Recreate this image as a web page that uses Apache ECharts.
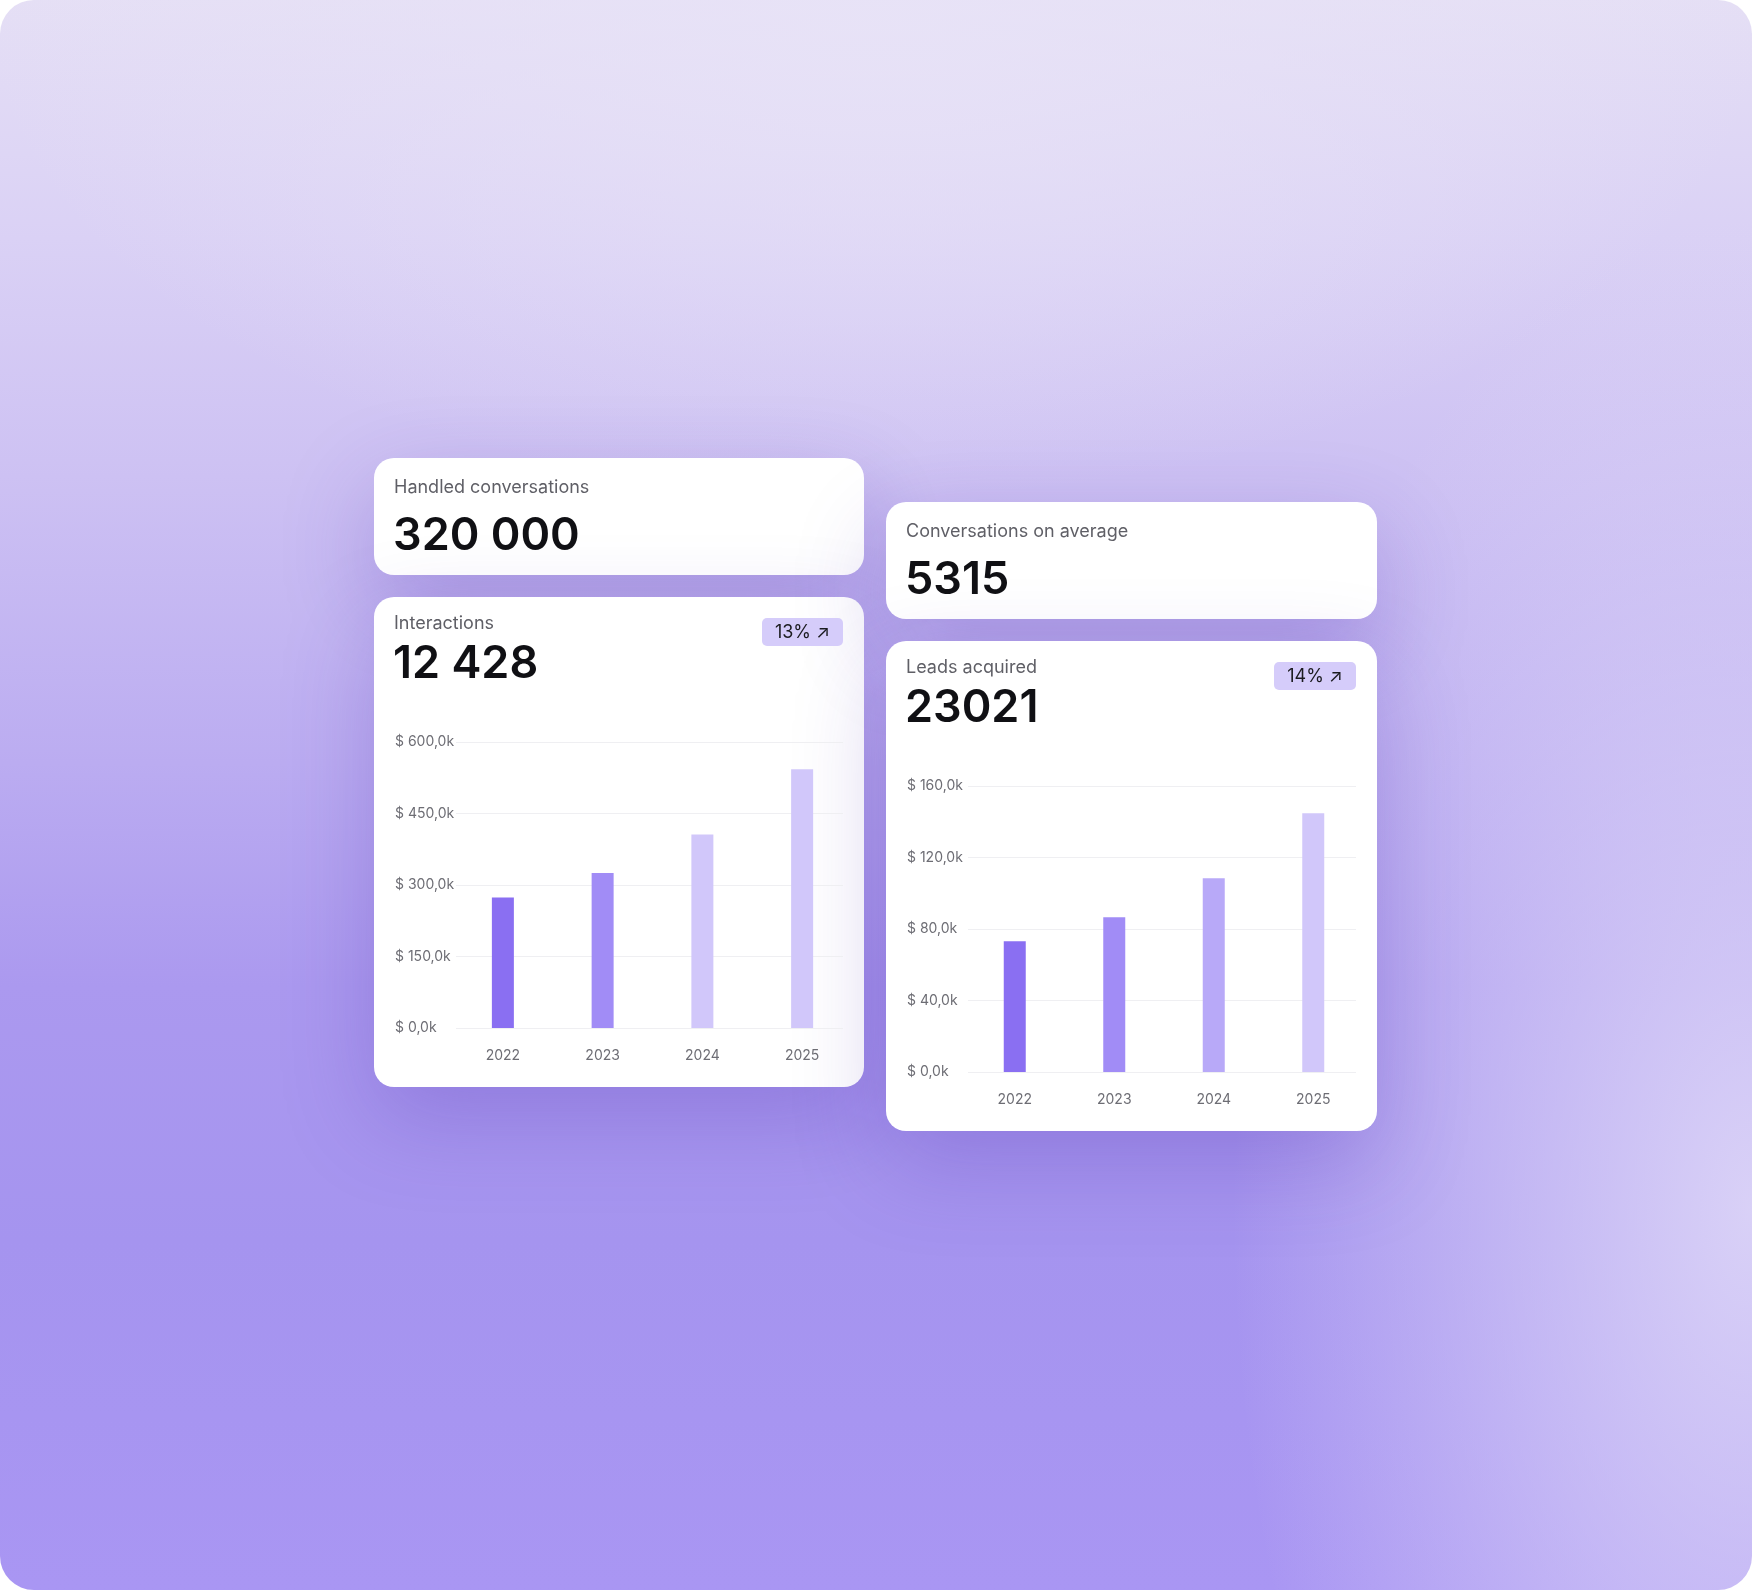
<!DOCTYPE html>
<html>
<head>
<meta charset="utf-8">
<script src="https://cdn.jsdelivr.net/npm/echarts@6/dist/echarts.min.js"></script>
<style>
  html, body { margin: 0; padding: 0; background: #ffffff; }
  #frame {
    position: absolute; left: 0; top: 0; width: 1752px; height: 1590px;
    border-radius: 34px; overflow: hidden;
    background:
      radial-gradient(ellipse 520px 1000px at 100% 76%, rgba(224,217,248,0.88) 0%, rgba(224,217,248,0.5) 45%, rgba(224,217,248,0) 100%),
      radial-gradient(ellipse 900px 500px at 50% 0%, rgba(232,227,247,0.9) 0%, rgba(232,227,247,0) 100%),
      linear-gradient(180deg, #e5dff5 0%, #dad1f5 15%, #cdc1f3 30%, #bbacf1 48%, #ab99ef 62%, #a594ef 78%, #a996f3 100%);
  }
  #chart { position: absolute; left: 0; top: 0; width: 1752px; height: 1590px; }
</style>
</head>
<body>
<div id="frame"></div>
<div id="chart"></div>
<script>
// ---------- data ----------
const years = ['2022', '2023', '2024', '2025'];
const interactionsValues = [274, 325, 406, 543];     // $ thousands
const leadsValues = [73.2, 86.6, 108.4, 144.7];      // $ thousands
const interactionsTicks = ['$ 0,0k', '$ 150,0k', '$ 300,0k', '$ 450,0k', '$ 600,0k'];
const leadsTicks = ['$ 0,0k', '$ 40,0k', '$ 80,0k', '$ 120,0k', '$ 160,0k'];
const kpiLabels = ['Handled conversations', 'Interactions', 'Conversations on average', 'Leads acquired'];
const kpiValues = ['320 000', '12 428', '5315', '23021'];
const badgeTexts = ['13% \u2197', '14% \u2197'];

// ---------- styles ----------
const leftBarColors = ['#8a6ff2', '#a18cf6', '#d1c7fa', '#d1c7fa'];
const rightBarColors = ['#8a6ff2', '#a18cf6', '#b8a9f8', '#d1c7fa'];
const FONT = 'Inter, "Noto Sans", sans-serif';

const chart = echarts.init(document.getElementById('chart'), null, { renderer: 'canvas' });

function card(x, y, w, h) {
  return {
    type: 'rect', z: 1,
    shape: { x: x, y: y, width: w, height: h, r: 20 },
    style: { fill: '#ffffff', shadowBlur: 90, shadowColor: 'rgba(70,40,170,0.25)', shadowOffsetY: 32 }
  };
}
function txt(x, y, s, size, weight, color, align) {
  return {
    type: 'text', z: 3,
    style: { x: x, y: y, text: s, font: weight + ' ' + size + 'px ' + FONT, fill: color,
             textAlign: align || 'left', textVerticalAlign: 'middle', verticalAlign: 'middle' }
  };
}
function badge(x, y, w, h, s) {
  return [
    { type: 'rect', z: 2, shape: { x: x, y: y, width: w, height: h, r: 5 }, style: { fill: '#d5ccfa' } },
    txt(x + w / 2, y + h / 2 + 1, s, 18, 400, '#1b1b1f', 'center')
  ];
}

const graphics = [
  card(374, 458, 490, 117),
  card(374, 597, 490, 490),
  card(886, 502, 491, 117),
  card(886, 641, 491, 490),
  txt(394, 488, kpiLabels[0], 18, 400, '#5f5f66'),
  txt(393, 536, kpiValues[0], 45, 600, '#101014'),
  txt(394, 624, kpiLabels[1], 18, 400, '#5f5f66'),
  txt(393, 664, kpiValues[1], 45, 600, '#101014'),
  txt(906, 532, kpiLabels[2], 18, 400, '#5f5f66'),
  txt(905, 580, kpiValues[2], 45, 600, '#101014'),
  txt(906, 668, kpiLabels[3], 18, 400, '#5f5f66'),
  txt(905, 708, kpiValues[3], 45, 600, '#101014')
].concat(badge(762, 618, 81, 28, badgeTexts[0]), badge(1274, 662, 82, 28, badgeTexts[1]));

// value axis with labels and grid lines (on the "frame" grids)
function yAxisFor(gridIndex, max, interval, ticks, margin) {
  return {
    type: 'value', gridIndex: gridIndex, min: 0, max: max, interval: interval, z: 3,
    axisLine: { show: false }, axisTick: { show: false },
    splitLine: { show: true, lineStyle: { color: '#efeff2', width: 1 } },
    axisLabel: {
      align: 'left', margin: margin, color: '#6d6d74', fontSize: 14, fontFamily: FONT,
      formatter: function (v) { return ticks[Math.round(v / interval)]; }
    }
  };
}
// value axis for the bar grids (same scale, nothing drawn)
function yAxisBars(gridIndex, max, interval) {
  return {
    type: 'value', gridIndex: gridIndex, min: 0, max: max, interval: interval,
    axisLine: { show: false }, axisTick: { show: false }, splitLine: { show: false }, axisLabel: { show: false }
  };
}
function xAxisHidden(gridIndex) {
  return { type: 'category', gridIndex: gridIndex, data: years, show: false };
}
function xAxisFor(gridIndex) {
  return {
    type: 'category', gridIndex: gridIndex, data: years, z: 3,
    axisLine: { show: false }, axisTick: { show: false }, splitLine: { show: false },
    axisLabel: { margin: 21, color: '#6d6d74', fontSize: 14, fontFamily: FONT }
  };
}
function barSeries(idx, values, colors) {
  return {
    type: 'bar', xAxisIndex: idx, yAxisIndex: idx, z: 4, barWidth: 22,
    data: values.map(function (v, i) { return { value: v, itemStyle: { color: colors[i] } }; }),
    emphasis: { disabled: true }
  };
}

chart.setOption({
  animation: false,
  backgroundColor: 'transparent',
  graphic: { elements: graphics },
  grid: [
    { left: 456, top: 742, width: 387, height: 286 },   // left card grid lines
    { left: 453, top: 742, width: 399, height: 286 },   // left card bars
    { left: 968, top: 786, width: 388, height: 286 },   // right card grid lines
    { left: 965, top: 786, width: 398, height: 286 }    // right card bars
  ],
  xAxis: [xAxisHidden(0), xAxisFor(1), xAxisHidden(2), xAxisFor(3)],
  yAxis: [
    yAxisFor(0, 600, 150, interactionsTicks, 456 - 395),
    yAxisBars(1, 600, 150),
    yAxisFor(2, 160, 40, leadsTicks, 968 - 907),
    yAxisBars(3, 160, 40)
  ],
  series: [
    barSeries(1, interactionsValues, leftBarColors),
    barSeries(3, leadsValues, rightBarColors)
  ]
});
</script>
</body>
</html>
